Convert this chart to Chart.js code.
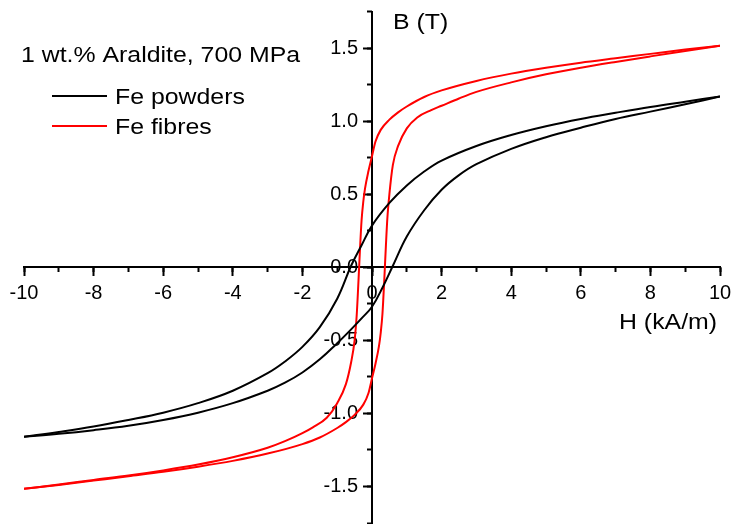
<!DOCTYPE html>
<html>
<head>
<meta charset="utf-8">
<script src="https://cdn.jsdelivr.net/npm/chart.js@4/dist/chart.umd.min.js"></script>
<style>
  html, body { margin: 0; padding: 0; background: #ffffff; }
  #wrap { width: 733px; height: 524px; }
</style>
</head>
<body>
<div id="wrap"><canvas id="chart" width="733" height="524"></canvas></div>
<script>
// Hysteresis loops B(H), 1 wt.% Araldite, compacted at 700 MPa.
// Each loop is stored as an upper branch and a lower branch, H in kA/m, B in T.

const H_POWDER_UPPER = [-10, -9, -8, -7, -6, -5, -4, -3, -2.5, -2, -1.5, -1, -0.6, -0.3, 0, 0.5, 1, 1.5, 2, 3, 4, 5, 6, 7, 8, 9, 10];
const B_POWDER_UPPER = [-1.16, -1.127, -1.09, -1.045, -0.995, -0.93, -0.845, -0.725, -0.645, -0.545, -0.41, -0.215, 0.01, 0.15, 0.285, 0.44, 0.56, 0.655, 0.73, 0.83, 0.905, 0.965, 1.015, 1.057, 1.097, 1.133, 1.168];

const H_POWDER_LOWER = [-10, -9, -8, -7, -6, -5, -4, -3, -2.5, -2, -1.5, -1, -0.6, -0.3, 0, 0.3, 0.6, 1, 1.5, 2, 2.5, 3, 4, 5, 6, 7, 8, 9, 10];
const B_POWDER_LOWER = [-1.16, -1.14, -1.115, -1.085, -1.045, -0.995, -0.93, -0.845, -0.79, -0.72, -0.63, -0.52, -0.425, -0.35, -0.27, -0.14, 0.01, 0.21, 0.39, 0.53, 0.63, 0.705, 0.81, 0.89, 0.955, 1.015, 1.065, 1.115, 1.168];

const H_FIBRE_UPPER = [-10, -9, -8, -7, -6, -5, -4, -3, -2.5, -2, -1.7, -1.3, -1, -0.75, -0.6, -0.5, -0.44, -0.4, -0.37, -0.35, -0.3, -0.25, -0.2, -0.1, 0, 0.1, 0.25, 0.5, 0.75, 1, 1.5, 2, 3, 4, 5, 6, 7, 8, 9, 10];
const B_FIBRE_UPPER = [-1.516, -1.487, -1.455, -1.425, -1.39, -1.35, -1.3, -1.235, -1.19, -1.135, -1.095, -1.03, -0.93, -0.8, -0.65, -0.5, -0.33, -0.15, 0, 0.1, 0.32, 0.45, 0.54, 0.66, 0.76, 0.86, 0.94, 1.01, 1.06, 1.10, 1.165, 1.21, 1.275, 1.325, 1.365, 1.40, 1.43, 1.46, 1.49, 1.516];

const H_FIBRE_LOWER = [-10, -9, -8, -7, -6, -5, -4, -3, -2, -1.5, -1, -0.75, -0.5, -0.25, -0.1, 0, 0.1, 0.2, 0.25, 0.3, 0.35, 0.37, 0.4, 0.44, 0.5, 0.6, 0.75, 1, 1.3, 1.7, 2, 2.5, 3, 4, 5, 6, 7, 8, 9, 10];
const B_FIBRE_LOWER = [-1.516, -1.49, -1.46, -1.43, -1.40, -1.365, -1.325, -1.275, -1.21, -1.165, -1.10, -1.06, -1.01, -0.94, -0.86, -0.76, -0.66, -0.54, -0.45, -0.32, -0.1, 0, 0.15, 0.33, 0.5, 0.70, 0.83, 0.95, 1.025, 1.075, 1.105, 1.155, 1.20, 1.265, 1.32, 1.365, 1.405, 1.443, 1.48, 1.516];

const X_MAJOR_TICKS = [-10, -8, -6, -4, -2, 0, 2, 4, 6, 8, 10];
const X_TICK_LABELS = ['-10', '-8', '-6', '-4', '-2', '0', '2', '4', '6', '8', '10'];
const X_MINOR_TICKS = [-10, -9, -8, -7, -6, -5, -4, -3, -2, -1, 0, 1, 2, 3, 4, 5, 6, 7, 8, 9, 10];
const Y_MAJOR_TICKS = [-1.5, -1.0, -0.5, 0, 0.5, 1.0, 1.5];
const Y_TICK_LABELS = ['-1.5', '-1.0', '-0.5', '0.0', '0.5', '1.0', '1.5'];
const Y_MINOR_TICKS = [-1.75, -1.5, -1.25, -1.0, -0.75, -0.5, -0.25, 0, 0.25, 0.5, 0.75, 1.0, 1.25, 1.5, 1.75];

const SERIES = [
  { name: 'Fe powders', color: '#000000' },
  { name: 'Fe fibres',  color: '#ff0000' }
];
const NOTE = '1 wt.% Araldite, 700 MPa';
const X_TITLE = 'H (kA/m)';
const Y_TITLE = 'B (T)';

const FONT = 'Arial, "Liberation Sans", Helvetica, sans-serif';

function pts(hs, bs) { return hs.map((h, i) => ({ x: h, y: bs[i] })); }

// gentle loops get a cardinal spline, the steep fibre loop a monotone one
function branch(hs, bs, color, monotone) {
  return {
    data: pts(hs, bs),
    borderColor: color,
    backgroundColor: color,
    borderWidth: 2,
    pointRadius: 0,
    showLine: true,
    fill: false,
    tension: 0.4,
    cubicInterpolationMode: monotone ? 'monotone' : 'default'
  };
}

// y tick labels sit to the left of the central axis
function shiftYLabels(scale) {
  if (scale._labelShiftWrapped) return;
  const base = Object.getPrototypeOf(scale).getLabelItems;
  scale.getLabelItems = function (area) {
    return base.call(this, area).map(it => ({
      ...it,
      options: { ...it.options, translation: [it.options.translation[0] - 14, it.options.translation[1]] }
    }));
  };
  scale._labelShiftWrapped = true;
}

function noPad(scale) {
  scale.paddingLeft = 0; scale.paddingRight = 0;
  scale.paddingTop = 0; scale.paddingBottom = 0;
}

function stretchedText(ctx, text, x, y, size, sx) {
  ctx.save();
  ctx.translate(x, y);
  ctx.scale(sx, 1);
  ctx.font = size + 'px ' + FONT;
  ctx.fillStyle = '#000000';
  ctx.textAlign = 'left';
  ctx.textBaseline = 'alphabetic';
  ctx.fillText(text, 0, 0);
  ctx.restore();
}

const annotations = {
  id: 'annotations',
  afterDraw(chart) {
    const ctx = chart.ctx;
    const SX = 1.13, SIZE = 22;
    stretchedText(ctx, NOTE, 21, 62, SIZE, SX);
    SERIES.forEach((s, i) => {
      const y = 96 + i * 30;
      ctx.save();
      ctx.strokeStyle = s.color;
      ctx.lineWidth = 2;
      ctx.beginPath();
      ctx.moveTo(52, y);
      ctx.lineTo(107, y);
      ctx.stroke();
      ctx.restore();
      stretchedText(ctx, s.name, 115, y + 7.5, SIZE, SX);
    });
    stretchedText(ctx, Y_TITLE, 393, 28.5, SIZE, SX);
    stretchedText(ctx, X_TITLE, 619, 328.5, SIZE, SX);
  }
};

const tickFont = { family: FONT, size: 20 };

new Chart(document.getElementById('chart'), {
  type: 'scatter',
  data: {
    datasets: [
      branch(H_POWDER_UPPER, B_POWDER_UPPER, SERIES[0].color, false),
      branch(H_POWDER_LOWER, B_POWDER_LOWER, SERIES[0].color, false),
      branch(H_FIBRE_UPPER, B_FIBRE_UPPER, SERIES[1].color, true),
      branch(H_FIBRE_LOWER, B_FIBRE_LOWER, SERIES[1].color, true)
    ]
  },
  options: {
    responsive: false,
    animation: false,
    devicePixelRatio: 1,
    layout: { padding: { left: 24, right: 13, top: 11.5, bottom: 1 } },
    plugins: { legend: { display: false }, tooltip: { enabled: false } },
    scales: {
      x: {
        type: 'linear', min: -10, max: 10, position: { y: 0 },
        afterBuildTicks: s => { s.ticks = X_MAJOR_TICKS.map(v => ({ value: v })); },
        afterFit: noPad,
        ticks: {
          color: '#000', font: tickFont, padding: 6, maxRotation: 0, autoSkip: false,
          callback: (v, i) => X_TICK_LABELS[i]
        },
        grid: { drawOnChartArea: false, drawTicks: true, tickLength: 8, tickWidth: 2, tickColor: '#000' },
        border: { display: true, color: '#000', width: 2 }
      },
      xMinor: {
        type: 'linear', min: -10, max: 10, position: { y: 0 },
        afterBuildTicks: s => { s.ticks = X_MINOR_TICKS.map(v => ({ value: v })); },
        afterFit: noPad,
        ticks: { display: false },
        grid: { drawOnChartArea: false, drawTicks: true, tickLength: 5, tickWidth: 2, tickColor: '#000' },
        border: { display: false }
      },
      y: {
        type: 'linear', min: -1.75, max: 1.75, position: { x: 0 },
        afterBuildTicks: s => { s.ticks = Y_MAJOR_TICKS.map(v => ({ value: v })); },
        afterFit: noPad,
        afterUpdate: shiftYLabels,
        ticks: {
          color: '#000', font: tickFont, autoSkip: false,
          callback: (v, i) => Y_TICK_LABELS[i]
        },
        grid: { drawOnChartArea: false, drawTicks: true, tickLength: 8, tickWidth: 2, tickColor: '#000' },
        border: { display: true, color: '#000', width: 2 }
      },
      yMinor: {
        type: 'linear', min: -1.75, max: 1.75, position: { x: 0 },
        afterBuildTicks: s => { s.ticks = Y_MINOR_TICKS.map(v => ({ value: v })); },
        afterFit: noPad,
        ticks: { display: false },
        grid: { drawOnChartArea: false, drawTicks: true, tickLength: 5, tickWidth: 2, tickColor: '#000' },
        border: { display: false }
      }
    }
  },
  plugins: [annotations]
});
</script>
</body>
</html>
